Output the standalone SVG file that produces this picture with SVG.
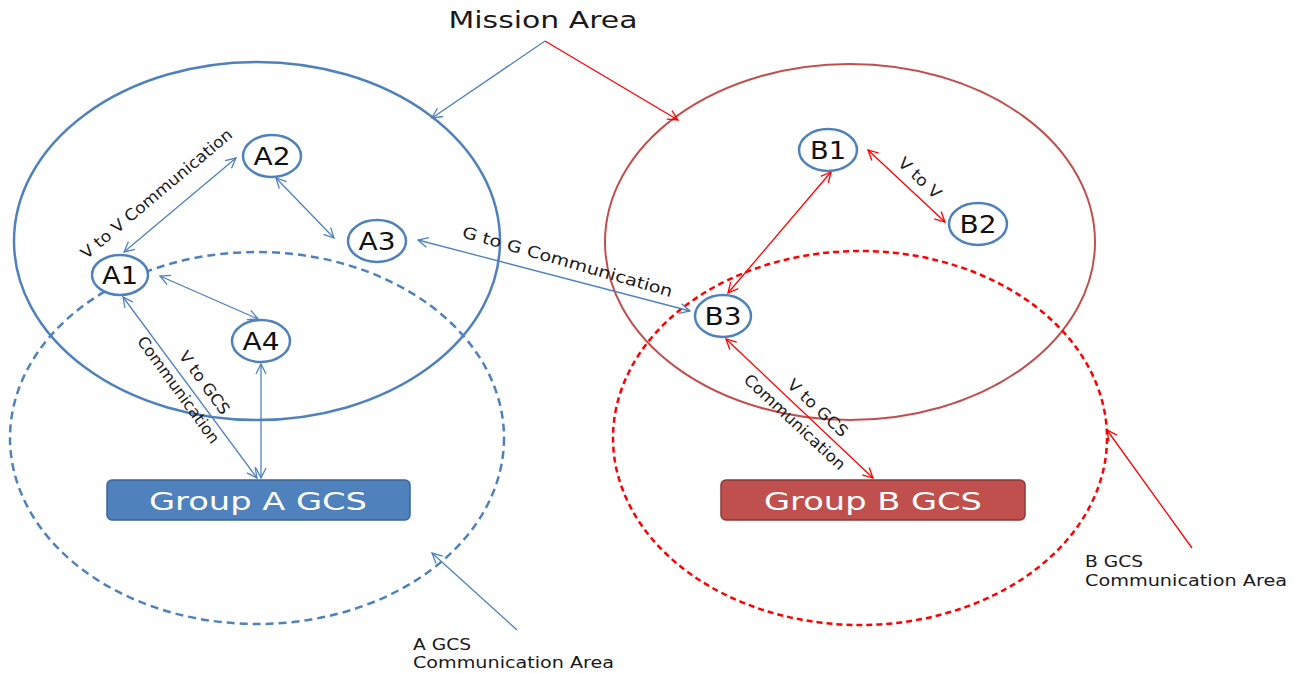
<svg xmlns="http://www.w3.org/2000/svg" width="1295" height="673" viewBox="0 0 1295 673">
  <style>
    .lbl { font-family: "DejaVu Sans", "Noto Sans", sans-serif; fill: #1a1a1a; }
    .node ellipse { fill: #fff; stroke: #4F81BD; stroke-width: 2.5; }
    .node text { font-family: "DejaVu Sans", "Noto Sans", sans-serif; font-size: 24px; fill: #111; text-anchor: middle; }
    .gcs text { font-family: "DejaVu Sans", "Noto Sans", sans-serif; font-size: 25px; fill: #fff; text-anchor: middle; }
    .blue { stroke: #4F81BD; stroke-width: 1.3; fill: none; }
    .red { stroke: #FF0000; stroke-width: 1.3; fill: none; }
    .small { font-size: 15px; }
    .rot { font-size: 16px; }
  </style>
  <defs>
    <marker id="ab" viewBox="0 0 12 12" refX="11" refY="6" markerWidth="12" markerHeight="12" markerUnits="userSpaceOnUse" orient="auto-start-reverse">
      <path d="M1,1 L11,6 L1,11" fill="none" stroke="#4F81BD" stroke-width="1.3"/>
    </marker>
    <marker id="ar" viewBox="0 0 12 12" refX="11" refY="6" markerWidth="12" markerHeight="12" markerUnits="userSpaceOnUse" orient="auto-start-reverse">
      <path d="M1,1 L11,6 L1,11" fill="none" stroke="#FF0000" stroke-width="1.3"/>
    </marker>
  </defs>
  <rect width="1295" height="673" fill="#fff"/>

  <!-- coverage areas -->
  <g id="areas" fill="none">
    <ellipse cx="257" cy="241" rx="243" ry="179" stroke="#4F81BD" stroke-width="2.5"/>
    <ellipse cx="850" cy="242" rx="245" ry="178" stroke="#C0504D" stroke-width="2"/>
    <ellipse cx="257" cy="438" rx="247" ry="186" stroke="#4F81BD" stroke-width="2.5" stroke-dasharray="8 5"/>
    <ellipse cx="860" cy="438" rx="247" ry="187" stroke="#FF0000" stroke-width="2.5" stroke-dasharray="6 4"/>
  </g>

  <!-- links -->
  <g id="connectors">
    <line class="blue" x1="545" y1="41" x2="432" y2="118" marker-end="url(#ab)"/>
    <line class="red" x1="545" y1="41" x2="678" y2="120" marker-end="url(#ar)"/>
    <line class="blue" x1="124" y1="252" x2="236" y2="158" marker-start="url(#ab)" marker-end="url(#ab)"/>
    <line class="blue" x1="276" y1="178" x2="334" y2="238" marker-start="url(#ab)" marker-end="url(#ab)"/>
    <line class="blue" x1="418" y1="240" x2="690" y2="311" marker-start="url(#ab)" marker-end="url(#ab)"/>
    <line class="blue" x1="160" y1="276" x2="258" y2="319" marker-start="url(#ab)" marker-end="url(#ab)"/>
    <line class="blue" x1="123" y1="297" x2="257" y2="478" marker-start="url(#ab)" marker-end="url(#ab)"/>
    <line class="blue" x1="261" y1="364" x2="261" y2="478" marker-start="url(#ab)" marker-end="url(#ab)"/>
    <line class="red" x1="868" y1="150" x2="945" y2="222" marker-start="url(#ar)" marker-end="url(#ar)"/>
    <line class="red" x1="831" y1="172" x2="728" y2="293" marker-start="url(#ar)" marker-end="url(#ar)"/>
    <line class="red" x1="726" y1="339" x2="873" y2="478" marker-start="url(#ar)" marker-end="url(#ar)"/>
    <line class="blue" x1="517" y1="630" x2="432" y2="553" marker-end="url(#ab)"/>
    <line class="red" x1="1192" y1="548" x2="1107" y2="430" marker-end="url(#ar)"/>
  </g>

  <!-- vehicles -->
  <g id="A1" class="node"><ellipse cx="120" cy="275" rx="28" ry="20"/><text x="120" y="284" textLength="36" lengthAdjust="spacingAndGlyphs">A1</text></g>
  <g id="A2" class="node"><ellipse cx="272" cy="156" rx="29" ry="21"/><text x="272" y="165" textLength="37" lengthAdjust="spacingAndGlyphs">A2</text></g>
  <g id="A3" class="node"><ellipse cx="377" cy="241" rx="29" ry="21"/><text x="377" y="250" textLength="37" lengthAdjust="spacingAndGlyphs">A3</text></g>
  <g id="A4" class="node"><ellipse cx="261" cy="341" rx="29" ry="21"/><text x="261" y="350" textLength="37" lengthAdjust="spacingAndGlyphs">A4</text></g>
  <g id="B1" class="node"><ellipse cx="828" cy="150" rx="29" ry="21"/><text x="828" y="159" textLength="36" lengthAdjust="spacingAndGlyphs">B1</text></g>
  <g id="B2" class="node"><ellipse cx="978" cy="224" rx="29" ry="21"/><text x="978" y="233" textLength="37" lengthAdjust="spacingAndGlyphs">B2</text></g>
  <g id="B3" class="node"><ellipse cx="723" cy="316" rx="28" ry="21"/><text x="723" y="325" textLength="37" lengthAdjust="spacingAndGlyphs">B3</text></g>

  <!-- ground control stations -->
  <g id="groupA" class="gcs"><rect x="107" y="480" width="303" height="40" rx="5" fill="#4F81BD" stroke="#3A6597" stroke-width="1.5"/><text x="258" y="510" textLength="218" lengthAdjust="spacingAndGlyphs">Group A  GCS</text></g>
  <g id="groupB" class="gcs"><rect x="721" y="480" width="304" height="40" rx="5" fill="#C0504D" stroke="#8C3836" stroke-width="1.5"/><text x="873" y="510" textLength="218" lengthAdjust="spacingAndGlyphs">Group B  GCS</text></g>

  <!-- labels -->
  <g id="labels">
    <text class="lbl" x="543" y="28" font-size="23" text-anchor="middle" textLength="189" lengthAdjust="spacingAndGlyphs">Mission Area</text>
    <text class="lbl rot" transform="translate(160,198) rotate(-40)" text-anchor="middle" textLength="192" lengthAdjust="spacingAndGlyphs">V to V Communication</text>
    <text class="lbl rot" transform="translate(566,267) rotate(16)" text-anchor="middle" textLength="218" lengthAdjust="spacingAndGlyphs">G to G Communication</text>
    <text class="lbl rot" transform="translate(916,182) rotate(43)" text-anchor="middle" textLength="52" lengthAdjust="spacingAndGlyphs">V to V</text>
    <text class="lbl rot" transform="translate(200,386) rotate(54)" text-anchor="middle" textLength="74" lengthAdjust="spacingAndGlyphs">V to GCS</text>
    <text class="lbl rot" transform="translate(174,393) rotate(54)" text-anchor="middle" textLength="128" lengthAdjust="spacingAndGlyphs">Communication</text>
    <text class="lbl rot" transform="translate(814,412) rotate(43)" text-anchor="middle" textLength="76" lengthAdjust="spacingAndGlyphs">V to GCS</text>
    <text class="lbl rot" transform="translate(791,426) rotate(43)" text-anchor="middle" textLength="132" lengthAdjust="spacingAndGlyphs">Communication</text>
    <text class="lbl small" x="413" y="650" textLength="58" lengthAdjust="spacingAndGlyphs">A GCS</text>
    <text class="lbl small" x="413" y="668" textLength="201" lengthAdjust="spacingAndGlyphs">Communication Area</text>
    <text class="lbl small" x="1085" y="567" textLength="58" lengthAdjust="spacingAndGlyphs">B GCS</text>
    <text class="lbl small" x="1085" y="586" textLength="202" lengthAdjust="spacingAndGlyphs">Communication Area</text>
  </g>
</svg>
